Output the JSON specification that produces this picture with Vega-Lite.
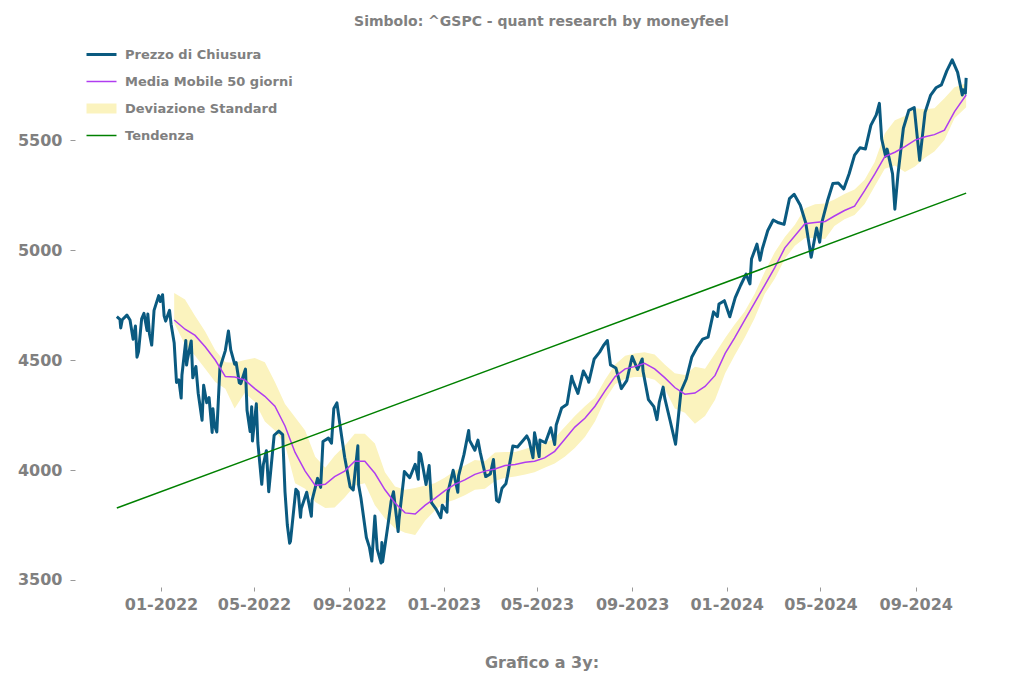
{
  "$schema": "https://vega.github.io/schema/vega-lite/v6.json",
  "autosize": "none",
  "padding": {"left": 75, "top": 35, "right": 16, "bottom": 98},
  "width": 933,
  "height": 552,
  "background": "white",
  "title": {
    "text": "Simbolo: ^GSPC - quant research by moneyfeel",
    "anchor": "middle",
    "fontSize": 14,
    "fontWeight": "bold",
    "color": "#808080",
    "font": "DejaVu Sans",
    "offset": 6
  },
  "config": {
    "view": {"stroke": null},
    "axis": {
      "domain": false,
      "grid": false,
      "tickColor": "#999999",
      "labelFont": "DejaVu Sans",
      "labelFontSize": 16,
      "labelFontWeight": "bold",
      "labelColor": "#808080",
      "titleFont": "DejaVu Sans",
      "titleFontSize": 16,
      "titleFontWeight": "bold",
      "titleColor": "#808080"
    }
  },
  "datasets": {
    "price": [
      {"date": "2021-11-05", "close": 4697}, {"date": "2021-11-09", "close": 4685}, {"date": "2021-11-10", "close": 4646},
      {"date": "2021-11-12", "close": 4683}, {"date": "2021-11-18", "close": 4704}, {"date": "2021-11-22", "close": 4682},
      {"date": "2021-11-26", "close": 4595}, {"date": "2021-11-29", "close": 4655}, {"date": "2021-12-01", "close": 4513},
      {"date": "2021-12-03", "close": 4538}, {"date": "2021-12-07", "close": 4687}, {"date": "2021-12-10", "close": 4712},
      {"date": "2021-12-14", "close": 4634}, {"date": "2021-12-15", "close": 4709}, {"date": "2021-12-17", "close": 4621},
      {"date": "2021-12-20", "close": 4568}, {"date": "2021-12-23", "close": 4726}, {"date": "2021-12-29", "close": 4793},
      {"date": "2021-12-31", "close": 4766}, {"date": "2022-01-03", "close": 4797}, {"date": "2022-01-05", "close": 4701},
      {"date": "2022-01-07", "close": 4677}, {"date": "2022-01-12", "close": 4726}, {"date": "2022-01-14", "close": 4663},
      {"date": "2022-01-18", "close": 4577}, {"date": "2022-01-21", "close": 4398}, {"date": "2022-01-24", "close": 4410},
      {"date": "2022-01-27", "close": 4327}, {"date": "2022-01-28", "close": 4432}, {"date": "2022-02-02", "close": 4589},
      {"date": "2022-02-03", "close": 4477}, {"date": "2022-02-04", "close": 4501}, {"date": "2022-02-09", "close": 4587},
      {"date": "2022-02-11", "close": 4419}, {"date": "2022-02-15", "close": 4471}, {"date": "2022-02-18", "close": 4349},
      {"date": "2022-02-23", "close": 4226}, {"date": "2022-02-25", "close": 4385}, {"date": "2022-03-01", "close": 4306},
      {"date": "2022-03-04", "close": 4329}, {"date": "2022-03-08", "close": 4171}, {"date": "2022-03-09", "close": 4278},
      {"date": "2022-03-11", "close": 4204}, {"date": "2022-03-14", "close": 4173}, {"date": "2022-03-18", "close": 4463},
      {"date": "2022-03-25", "close": 4543}, {"date": "2022-03-29", "close": 4632}, {"date": "2022-04-01", "close": 4546},
      {"date": "2022-04-06", "close": 4481}, {"date": "2022-04-08", "close": 4488}, {"date": "2022-04-12", "close": 4397},
      {"date": "2022-04-14", "close": 4393}, {"date": "2022-04-20", "close": 4459}, {"date": "2022-04-22", "close": 4272},
      {"date": "2022-04-26", "close": 4175}, {"date": "2022-04-28", "close": 4288}, {"date": "2022-04-29", "close": 4132},
      {"date": "2022-05-04", "close": 4301}, {"date": "2022-05-06", "close": 4123}, {"date": "2022-05-11", "close": 3935},
      {"date": "2022-05-13", "close": 4024}, {"date": "2022-05-17", "close": 4088}, {"date": "2022-05-20", "close": 3901},
      {"date": "2022-05-27", "close": 4158}, {"date": "2022-06-02", "close": 4177}, {"date": "2022-06-07", "close": 4161},
      {"date": "2022-06-10", "close": 3901}, {"date": "2022-06-13", "close": 3750}, {"date": "2022-06-16", "close": 3667},
      {"date": "2022-06-17", "close": 3675}, {"date": "2022-06-24", "close": 3912}, {"date": "2022-06-27", "close": 3900},
      {"date": "2022-06-30", "close": 3785}, {"date": "2022-07-01", "close": 3825}, {"date": "2022-07-08", "close": 3899},
      {"date": "2022-07-14", "close": 3790}, {"date": "2022-07-15", "close": 3863}, {"date": "2022-07-22", "close": 3962},
      {"date": "2022-07-26", "close": 3921}, {"date": "2022-07-29", "close": 4130}, {"date": "2022-08-05", "close": 4145},
      {"date": "2022-08-09", "close": 4122}, {"date": "2022-08-12", "close": 4280}, {"date": "2022-08-16", "close": 4305},
      {"date": "2022-08-19", "close": 4228}, {"date": "2022-08-26", "close": 4058}, {"date": "2022-09-02", "close": 3924},
      {"date": "2022-09-06", "close": 3909}, {"date": "2022-09-12", "close": 4110}, {"date": "2022-09-13", "close": 3932},
      {"date": "2022-09-16", "close": 3873}, {"date": "2022-09-23", "close": 3693}, {"date": "2022-09-27", "close": 3648},
      {"date": "2022-09-30", "close": 3586}, {"date": "2022-10-04", "close": 3791}, {"date": "2022-10-07", "close": 3640},
      {"date": "2022-10-12", "close": 3577}, {"date": "2022-10-13", "close": 3670}, {"date": "2022-10-14", "close": 3583},
      {"date": "2022-10-21", "close": 3753}, {"date": "2022-10-25", "close": 3859}, {"date": "2022-10-28", "close": 3901},
      {"date": "2022-11-03", "close": 3720}, {"date": "2022-11-04", "close": 3771}, {"date": "2022-11-10", "close": 3956},
      {"date": "2022-11-11", "close": 3993}, {"date": "2022-11-18", "close": 3965}, {"date": "2022-11-25", "close": 4026},
      {"date": "2022-11-29", "close": 3958}, {"date": "2022-11-30", "close": 4080}, {"date": "2022-12-02", "close": 4072},
      {"date": "2022-12-09", "close": 3934}, {"date": "2022-12-13", "close": 4020}, {"date": "2022-12-16", "close": 3852},
      {"date": "2022-12-22", "close": 3822}, {"date": "2022-12-28", "close": 3783}, {"date": "2022-12-30", "close": 3840},
      {"date": "2023-01-05", "close": 3808}, {"date": "2023-01-06", "close": 3895}, {"date": "2023-01-13", "close": 3999},
      {"date": "2023-01-19", "close": 3899}, {"date": "2023-01-20", "close": 3973}, {"date": "2023-01-27", "close": 4071},
      {"date": "2023-02-02", "close": 4180}, {"date": "2023-02-03", "close": 4136}, {"date": "2023-02-10", "close": 4090},
      {"date": "2023-02-14", "close": 4136}, {"date": "2023-02-17", "close": 4079}, {"date": "2023-02-24", "close": 3970},
      {"date": "2023-03-02", "close": 3982}, {"date": "2023-03-06", "close": 4048}, {"date": "2023-03-10", "close": 3862},
      {"date": "2023-03-13", "close": 3855}, {"date": "2023-03-17", "close": 3917}, {"date": "2023-03-22", "close": 3937},
      {"date": "2023-03-24", "close": 3971}, {"date": "2023-03-31", "close": 4109}, {"date": "2023-04-06", "close": 4105},
      {"date": "2023-04-14", "close": 4138}, {"date": "2023-04-18", "close": 4155}, {"date": "2023-04-21", "close": 4133},
      {"date": "2023-04-26", "close": 4056}, {"date": "2023-04-28", "close": 4169}, {"date": "2023-05-04", "close": 4061},
      {"date": "2023-05-05", "close": 4136}, {"date": "2023-05-12", "close": 4124}, {"date": "2023-05-19", "close": 4192},
      {"date": "2023-05-24", "close": 4116}, {"date": "2023-05-26", "close": 4205}, {"date": "2023-06-02", "close": 4282},
      {"date": "2023-06-09", "close": 4299}, {"date": "2023-06-15", "close": 4426}, {"date": "2023-06-16", "close": 4410},
      {"date": "2023-06-23", "close": 4348}, {"date": "2023-06-30", "close": 4450}, {"date": "2023-07-06", "close": 4411},
      {"date": "2023-07-07", "close": 4399}, {"date": "2023-07-14", "close": 4505}, {"date": "2023-07-21", "close": 4536},
      {"date": "2023-07-26", "close": 4566}, {"date": "2023-07-31", "close": 4589}, {"date": "2023-08-04", "close": 4478},
      {"date": "2023-08-11", "close": 4464}, {"date": "2023-08-18", "close": 4370}, {"date": "2023-08-25", "close": 4406},
      {"date": "2023-09-01", "close": 4516}, {"date": "2023-09-08", "close": 4457}, {"date": "2023-09-14", "close": 4505},
      {"date": "2023-09-15", "close": 4450}, {"date": "2023-09-22", "close": 4320}, {"date": "2023-09-29", "close": 4288},
      {"date": "2023-10-03", "close": 4229}, {"date": "2023-10-06", "close": 4309}, {"date": "2023-10-11", "close": 4377},
      {"date": "2023-10-13", "close": 4328}, {"date": "2023-10-20", "close": 4224}, {"date": "2023-10-27", "close": 4117},
      {"date": "2023-11-03", "close": 4358}, {"date": "2023-11-10", "close": 4415}, {"date": "2023-11-17", "close": 4514},
      {"date": "2023-11-24", "close": 4559}, {"date": "2023-12-01", "close": 4595}, {"date": "2023-12-08", "close": 4604},
      {"date": "2023-12-15", "close": 4719}, {"date": "2023-12-20", "close": 4698}, {"date": "2023-12-22", "close": 4755},
      {"date": "2023-12-29", "close": 4770}, {"date": "2024-01-05", "close": 4697}, {"date": "2024-01-12", "close": 4784},
      {"date": "2024-01-19", "close": 4840}, {"date": "2024-01-26", "close": 4891}, {"date": "2024-01-31", "close": 4846},
      {"date": "2024-02-02", "close": 4959}, {"date": "2024-02-09", "close": 5027}, {"date": "2024-02-13", "close": 4954},
      {"date": "2024-02-16", "close": 5006}, {"date": "2024-02-23", "close": 5089}, {"date": "2024-03-01", "close": 5137},
      {"date": "2024-03-08", "close": 5124}, {"date": "2024-03-15", "close": 5117}, {"date": "2024-03-22", "close": 5234},
      {"date": "2024-03-28", "close": 5254}, {"date": "2024-04-05", "close": 5204}, {"date": "2024-04-12", "close": 5123},
      {"date": "2024-04-19", "close": 4967}, {"date": "2024-04-26", "close": 5100}, {"date": "2024-04-30", "close": 5036},
      {"date": "2024-05-03", "close": 5128}, {"date": "2024-05-10", "close": 5223}, {"date": "2024-05-17", "close": 5303},
      {"date": "2024-05-24", "close": 5305}, {"date": "2024-05-31", "close": 5278}, {"date": "2024-06-07", "close": 5347},
      {"date": "2024-06-14", "close": 5432}, {"date": "2024-06-21", "close": 5465}, {"date": "2024-06-28", "close": 5460},
      {"date": "2024-07-05", "close": 5567}, {"date": "2024-07-12", "close": 5615}, {"date": "2024-07-16", "close": 5667},
      {"date": "2024-07-19", "close": 5505}, {"date": "2024-07-24", "close": 5427}, {"date": "2024-07-26", "close": 5459},
      {"date": "2024-08-02", "close": 5347}, {"date": "2024-08-05", "close": 5186}, {"date": "2024-08-09", "close": 5344},
      {"date": "2024-08-16", "close": 5554}, {"date": "2024-08-23", "close": 5635}, {"date": "2024-08-30", "close": 5648},
      {"date": "2024-09-06", "close": 5408}, {"date": "2024-09-13", "close": 5626}, {"date": "2024-09-20", "close": 5703},
      {"date": "2024-09-27", "close": 5738}, {"date": "2024-10-04", "close": 5751}, {"date": "2024-10-11", "close": 5815},
      {"date": "2024-10-18", "close": 5865}, {"date": "2024-10-25", "close": 5808}, {"date": "2024-10-31", "close": 5705},
      {"date": "2024-11-01", "close": 5729}, {"date": "2024-11-04", "close": 5713}, {"date": "2024-11-05", "close": 5783}
    ],
    "stats": [
      {"date": "2022-01-18", "ma": 4682, "lo": 4668, "hi": 4805},
      {"date": "2022-02-01", "ma": 4640, "lo": 4570, "hi": 4775},
      {"date": "2022-02-14", "ma": 4612, "lo": 4520, "hi": 4700},
      {"date": "2022-02-27", "ma": 4560, "lo": 4460, "hi": 4630},
      {"date": "2022-03-12", "ma": 4500, "lo": 4400, "hi": 4545},
      {"date": "2022-03-25", "ma": 4425, "lo": 4370, "hi": 4490},
      {"date": "2022-04-06", "ma": 4423, "lo": 4280, "hi": 4488},
      {"date": "2022-04-19", "ma": 4410, "lo": 4350, "hi": 4500},
      {"date": "2022-05-02", "ma": 4370, "lo": 4310, "hi": 4509},
      {"date": "2022-05-15", "ma": 4335, "lo": 4220, "hi": 4490},
      {"date": "2022-05-28", "ma": 4290, "lo": 4180, "hi": 4400},
      {"date": "2022-06-10", "ma": 4200, "lo": 4115, "hi": 4300},
      {"date": "2022-06-23", "ma": 4080, "lo": 3940, "hi": 4240},
      {"date": "2022-07-06", "ma": 3995, "lo": 3915, "hi": 4180},
      {"date": "2022-07-19", "ma": 3930, "lo": 3855, "hi": 4060},
      {"date": "2022-08-01", "ma": 3935, "lo": 3827, "hi": 4010},
      {"date": "2022-08-13", "ma": 3970, "lo": 3830, "hi": 4065},
      {"date": "2022-08-26", "ma": 3995, "lo": 3875, "hi": 4110},
      {"date": "2022-09-08", "ma": 4040, "lo": 3930, "hi": 4165},
      {"date": "2022-09-21", "ma": 4040, "lo": 3940, "hi": 4165},
      {"date": "2022-10-04", "ma": 3985, "lo": 3840, "hi": 4120},
      {"date": "2022-10-17", "ma": 3910, "lo": 3780, "hi": 3990},
      {"date": "2022-10-30", "ma": 3850, "lo": 3735, "hi": 3925},
      {"date": "2022-11-12", "ma": 3805, "lo": 3715, "hi": 3910},
      {"date": "2022-11-25", "ma": 3800, "lo": 3705, "hi": 3918},
      {"date": "2022-12-08", "ma": 3840, "lo": 3770, "hi": 3930},
      {"date": "2022-12-20", "ma": 3870, "lo": 3815, "hi": 3940},
      {"date": "2023-01-02", "ma": 3905, "lo": 3850, "hi": 3965},
      {"date": "2023-01-15", "ma": 3935, "lo": 3865, "hi": 3995},
      {"date": "2023-01-28", "ma": 3955, "lo": 3885, "hi": 4020},
      {"date": "2023-02-10", "ma": 3980, "lo": 3910, "hi": 4045},
      {"date": "2023-02-23", "ma": 3995, "lo": 3915, "hi": 4040},
      {"date": "2023-03-08", "ma": 4005, "lo": 3950, "hi": 4080},
      {"date": "2023-03-21", "ma": 4020, "lo": 3965, "hi": 4082},
      {"date": "2023-04-03", "ma": 4025, "lo": 3970, "hi": 4082},
      {"date": "2023-04-16", "ma": 4035, "lo": 3980, "hi": 4095},
      {"date": "2023-04-28", "ma": 4040, "lo": 3990, "hi": 4110},
      {"date": "2023-05-11", "ma": 4055, "lo": 4010, "hi": 4120},
      {"date": "2023-05-24", "ma": 4085, "lo": 4030, "hi": 4145},
      {"date": "2023-06-06", "ma": 4140, "lo": 4060, "hi": 4195},
      {"date": "2023-06-19", "ma": 4195, "lo": 4100, "hi": 4245},
      {"date": "2023-07-02", "ma": 4235, "lo": 4150, "hi": 4290},
      {"date": "2023-07-15", "ma": 4290, "lo": 4220, "hi": 4330},
      {"date": "2023-07-28", "ma": 4360, "lo": 4320, "hi": 4410},
      {"date": "2023-08-10", "ma": 4425, "lo": 4390, "hi": 4480},
      {"date": "2023-08-23", "ma": 4460, "lo": 4415, "hi": 4520},
      {"date": "2023-09-04", "ma": 4470, "lo": 4423, "hi": 4530},
      {"date": "2023-09-17", "ma": 4485, "lo": 4423, "hi": 4535},
      {"date": "2023-09-30", "ma": 4460, "lo": 4410, "hi": 4525},
      {"date": "2023-10-13", "ma": 4420, "lo": 4370, "hi": 4480},
      {"date": "2023-10-26", "ma": 4375, "lo": 4280, "hi": 4440},
      {"date": "2023-11-08", "ma": 4345, "lo": 4260, "hi": 4432},
      {"date": "2023-11-21", "ma": 4350, "lo": 4210, "hi": 4470},
      {"date": "2023-12-04", "ma": 4380, "lo": 4245, "hi": 4460},
      {"date": "2023-12-17", "ma": 4430, "lo": 4320, "hi": 4530},
      {"date": "2023-12-30", "ma": 4530, "lo": 4440, "hi": 4600},
      {"date": "2024-01-11", "ma": 4600, "lo": 4520, "hi": 4660},
      {"date": "2024-01-24", "ma": 4680, "lo": 4600, "hi": 4720},
      {"date": "2024-02-06", "ma": 4760, "lo": 4690, "hi": 4800},
      {"date": "2024-02-19", "ma": 4840, "lo": 4800, "hi": 4900},
      {"date": "2024-03-03", "ma": 4920, "lo": 4870, "hi": 4990},
      {"date": "2024-03-16", "ma": 5010, "lo": 4960, "hi": 5060},
      {"date": "2024-03-29", "ma": 5065, "lo": 5020, "hi": 5115},
      {"date": "2024-04-11", "ma": 5120, "lo": 5055, "hi": 5190},
      {"date": "2024-04-24", "ma": 5125, "lo": 5055, "hi": 5208},
      {"date": "2024-05-07", "ma": 5130, "lo": 5050, "hi": 5212},
      {"date": "2024-05-19", "ma": 5155, "lo": 5110, "hi": 5230},
      {"date": "2024-06-01", "ma": 5180, "lo": 5140, "hi": 5255},
      {"date": "2024-06-14", "ma": 5200, "lo": 5160, "hi": 5275},
      {"date": "2024-06-27", "ma": 5270, "lo": 5210, "hi": 5320},
      {"date": "2024-07-10", "ma": 5345, "lo": 5290, "hi": 5400},
      {"date": "2024-07-23", "ma": 5425, "lo": 5370, "hi": 5530},
      {"date": "2024-08-05", "ma": 5445, "lo": 5385, "hi": 5590},
      {"date": "2024-08-18", "ma": 5470, "lo": 5355, "hi": 5610},
      {"date": "2024-08-31", "ma": 5500, "lo": 5380, "hi": 5645},
      {"date": "2024-09-13", "ma": 5515, "lo": 5420, "hi": 5640},
      {"date": "2024-09-25", "ma": 5525, "lo": 5448, "hi": 5645},
      {"date": "2024-10-08", "ma": 5545, "lo": 5500, "hi": 5690},
      {"date": "2024-10-21", "ma": 5630, "lo": 5600, "hi": 5740},
      {"date": "2024-11-05", "ma": 5705, "lo": 5650, "hi": 5759}
    ],
    "trend": [
      {"date": "2021-11-05", "value": 3827},
      {"date": "2024-11-05", "value": 5259}
    ]
  },
  "encoding": {
    "x": {
      "field": "date",
      "type": "temporal",
      "scale": {
        "type": "utc",
        "domain": [
          {"year": 2021, "month": 9, "date": 12, "utc": true},
          {"year": 2024, "month": 12, "date": 29, "utc": true}
        ]
      },
      "axis": {
        "values": [
          {"year": 2022, "month": 1, "date": 1, "utc": true},
          {"year": 2022, "month": 5, "date": 1, "utc": true},
          {"year": 2022, "month": 9, "date": 1, "utc": true},
          {"year": 2023, "month": 1, "date": 1, "utc": true},
          {"year": 2023, "month": 5, "date": 1, "utc": true},
          {"year": 2023, "month": 9, "date": 1, "utc": true},
          {"year": 2024, "month": 1, "date": 1, "utc": true},
          {"year": 2024, "month": 5, "date": 1, "utc": true},
          {"year": 2024, "month": 9, "date": 1, "utc": true}
        ],
        "labelExpr": "utcFormat(datum.value, '%m-%Y')",
        "title": "Grafico a 3y:",
        "titlePadding": 42,
        "tickSize": 4,
        "labelPadding": 5,
        "labelFlush": false
      }
    }
  },
  "layer": [
    {
      "data": {"name": "stats"},
      "mark": {"type": "area"},
      "encoding": {
        "y": {"field": "lo", "type": "quantitative"},
        "y2": {"field": "hi"},
        "color": {"datum": "Deviazione Standard"}
      }
    },
    {
      "data": {"name": "price"},
      "mark": {"type": "line", "strokeWidth": 3, "strokeJoin": "round"},
      "encoding": {
        "y": {
          "field": "close",
          "type": "quantitative",
          "scale": {"domain": [3468, 5978], "nice": false, "zero": false},
          "axis": {
            "values": [3500, 4000, 4500, 5000, 5500],
            "format": "d",
            "title": null,
            "tickSize": 5,
            "labelPadding": 8
          }
        },
        "color": {
          "datum": "Prezzo di Chiusura",
          "scale": {
            "domain": ["Prezzo di Chiusura", "Media Mobile 50 giorni", "Deviazione Standard", "Tendenza"],
            "range": ["#0a5a80", "#b03cf0", "#fbf3be", "#008000"]
          },
          "legend": {
            "orient": "none",
            "legendX": 20,
            "legendY": 13,
            "title": null,
            "padding": 0,
            "gridAlign": "all",
            "symbolType": "stroke",
            "symbolSize": 900,
            "symbolStrokeWidth": 1.5,
            "labelFont": "DejaVu Sans",
            "labelFontSize": 13,
            "labelFontWeight": "bold",
            "labelColor": "#808080",
            "labelLimit": 300,
            "labelOffset": 17,
            "rowPadding": -26,
            "encode": {
              "symbols": {
                "enter": {
                  "strokeWidth": {"signal": "datum.value == 'Deviazione Standard' ? 10 : datum.value == 'Prezzo di Chiusura' ? 3 : 1.5"}
                },
                "update": {}
              }
            }
          }
        }
      }
    },
    {
      "data": {"name": "stats"},
      "mark": {"type": "line", "strokeWidth": 1.5},
      "encoding": {
        "y": {"field": "ma", "type": "quantitative"},
        "color": {"datum": "Media Mobile 50 giorni"}
      }
    },
    {
      "data": {"name": "trend"},
      "mark": {"type": "line", "strokeWidth": 1.5},
      "encoding": {
        "y": {"field": "value", "type": "quantitative"},
        "color": {"datum": "Tendenza"}
      }
    }
  ]
}
